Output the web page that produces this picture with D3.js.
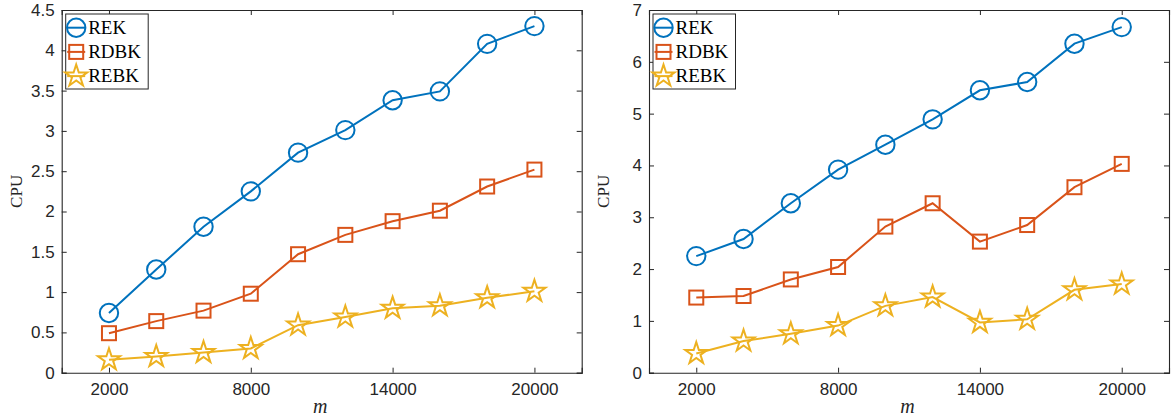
<!DOCTYPE html>
<html>
<head>
<meta charset="utf-8">
<script src="https://cdn.jsdelivr.net/npm/d3@7"></script>
<style>
  body { margin: 0; background: #fff; }
  svg { display: block; }
  .tick text { font-family: "Liberation Sans", Arial, sans-serif; font-size: 17px; fill: #262626; }
</style>
</head>
<body>
<div id="chart-area"></div>
<script>
// Data
var mValues = [2000, 4000, 6000, 8000, 10000, 12000, 14000, 16000, 18000, 20000];
var xTicks = [2000, 8000, 14000, 20000];
var seriesNames = ["REK", "RDBK", "REBK"];

var rekLeft  = [0.74, 1.28, 1.81, 2.25, 2.73, 3.01, 3.38, 3.49, 4.08, 4.30];
var rdbkLeft = [0.49, 0.64, 0.77, 0.98, 1.47, 1.71, 1.88, 2.01, 2.31, 2.52];
var rebkLeft = [0.16, 0.20, 0.25, 0.30, 0.59, 0.69, 0.80, 0.83, 0.93, 1.01];
var yTicksLeft = [0, 0.5, 1, 1.5, 2, 2.5, 3, 3.5, 4, 4.5];

var rekRight  = [2.25, 2.58, 3.27, 3.92, 4.40, 4.89, 5.45, 5.61, 6.35, 6.67];
var rdbkRight = [1.45, 1.48, 1.80, 2.04, 2.82, 3.27, 2.53, 2.85, 3.58, 4.03];
var rebkRight = [0.37, 0.61, 0.75, 0.91, 1.29, 1.46, 0.97, 1.03, 1.60, 1.71];
var yTicksRight = [0, 1, 2, 3, 4, 5, 6, 7];

var colours = ["#0072BD", "#D95319", "#EDB120"];
var axisColour = "#262626";

var svg = d3.select("#chart-area").append("svg")
    .attr("width", 1173)
    .attr("height", 419);

// marker drawing
function drawMarker(sel, i) {
    if (i === 0) {
        sel.append("circle").attr("r", 9.2);
    } else if (i === 1) {
        sel.append("rect").attr("x", -7).attr("y", -7).attr("width", 14).attr("height", 14);
    } else {
        sel.append("path").attr("d", d3.symbol().type(d3.symbolStar).size(150)());
    }
    sel.attr("fill", "none")
        .attr("stroke", colours[i])
        .attr("stroke-width", 2);
}

function drawPanel(left, series, yMax, yTicks) {
    var top = 10, width = 520, height = 362.7;

    var x = d3.scaleLinear().domain([0, 22000]).range([0, width]);
    var y = d3.scaleLinear().domain([0, yMax]).range([height, 0]);

    var g = svg.append("g")
        .attr("transform", "translate(" + left + ", " + top + ")");

    // Axes (ticks inward, box on)
    var xAxisCall = d3.axisBottom(x).tickValues(xTicks).tickSize(-5).tickPadding(10).tickFormat(d3.format("d"));
    var xTopCall = d3.axisTop(x).tickValues(xTicks).tickSize(-5).tickFormat("");
    var yAxisCall = d3.axisLeft(y).tickValues(yTicks).tickSize(-5).tickPadding(7).tickFormat(function(d) { return d; });
    var yRightCall = d3.axisRight(y).tickValues(yTicks).tickSize(-5).tickFormat("");

    var axes = [
        g.append("g").attr("transform", "translate(0," + height + ")").call(xAxisCall),
        g.append("g").call(xTopCall),
        g.append("g").call(yAxisCall),
        g.append("g").attr("transform", "translate(" + width + ",0)").call(yRightCall)
    ];
    axes.forEach(function(a) {
        a.select(".domain").attr("stroke", axisColour).attr("stroke-width", 1.1);
        a.selectAll(".tick line").attr("stroke", axisColour).attr("stroke-width", 1);
    });
    axes[0].selectAll(".tick text").attr("dy", "0.71em");

    // Lines and markers
    var line = d3.line()
        .x(function(d, i) { return x(mValues[i]); })
        .y(function(d) { return y(d); });

    series.forEach(function(values, i) {
        g.append("path")
            .attr("fill", "none")
            .attr("stroke", colours[i])
            .attr("stroke-width", 2)
            .attr("d", line(values));

        values.forEach(function(v, j) {
            var m = g.append("g")
                .attr("transform", "translate(" + x(mValues[j]) + "," + y(v) + ")");
            drawMarker(m, i);
        });
    });

    // Legend
    var legend = g.append("g")
        .attr("transform", "translate(4, 4)");
    legend.append("rect")
        .attr("width", 82.5)
        .attr("height", 75)
        .attr("fill", "#fff")
        .attr("stroke", axisColour)
        .attr("stroke-width", 1);

    seriesNames.forEach(function(name, i) {
        var row = legend.append("g")
            .attr("transform", "translate(0, " + (13.7 + i * 24.2) + ")");
        row.append("line")
            .attr("x1", 1.5).attr("x2", 19.5)
            .attr("stroke", colours[i])
            .attr("stroke-width", 2);
        var m = row.append("g").attr("transform", "translate(10.5,0)");
        drawMarker(m, i);
        row.append("text")
            .attr("x", 22.5)
            .attr("y", 6.3)
            .attr("font-family", "'Liberation Serif', 'Times New Roman', serif")
            .attr("font-size", "19px")
            .attr("fill", "#000")
            .text(name);
    });

    // Axis labels
    g.append("text")
        .attr("x", 258.5)
        .attr("y", height + 40)
        .attr("text-anchor", "middle")
        .attr("font-family", "'Liberation Serif', 'Times New Roman', serif")
        .attr("font-style", "italic")
        .attr("font-size", "20px")
        .attr("fill", axisColour)
        .text("m");

    g.append("text")
        .attr("transform", "translate(" + (-40) + "," + (height / 2) + ") rotate(-90)")
        .attr("text-anchor", "middle")
        .attr("font-family", "'Liberation Serif', 'Times New Roman', serif")
        .attr("font-size", "17px")
        .attr("fill", axisColour)
        .text("CPU");
}

drawPanel(61.7, [rekLeft, rdbkLeft, rebkLeft], 4.5, yTicksLeft);
drawPanel(649, [rekRight, rdbkRight, rebkRight], 7, yTicksRight);
</script>
</body>
</html>
